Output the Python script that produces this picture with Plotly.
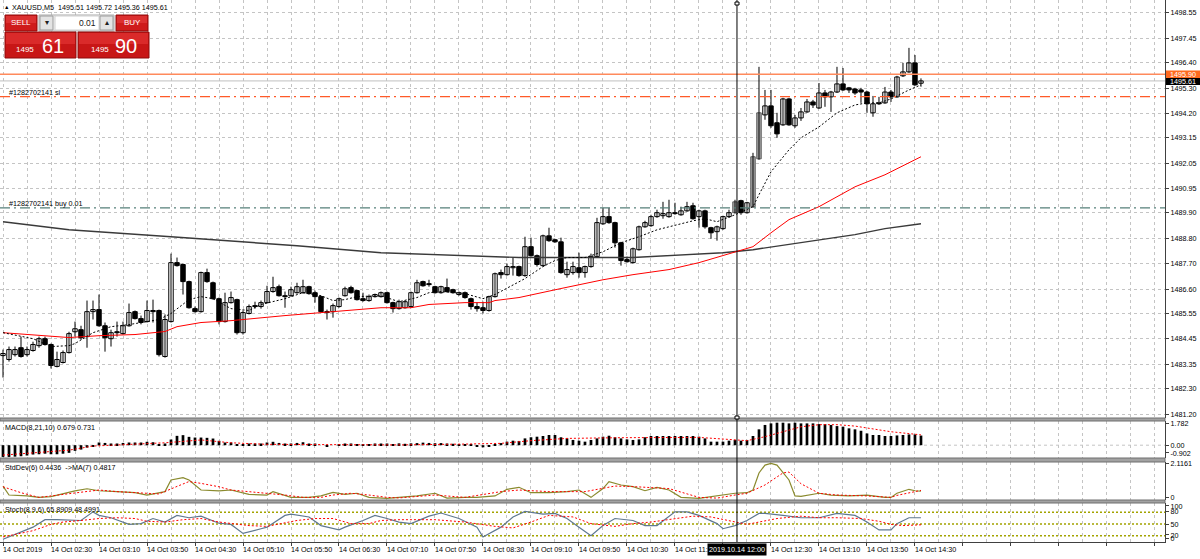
import plotly.graph_objects as go

# ---------------- data ----------------
OPEN = [
    1483.73, 1483.56, 1483.77, 1484.07, 1483.77, 1483.95, 1484.16, 1484.46, 1484.21, 1483.26,
    1483.43, 1483.86, 1484.76, 1484.85, 1484.55, 1485.63, 1485.72, 1485.02, 1484.46, 1484.76,
    1484.68, 1485.02, 1485.63, 1485.33, 1485.20, 1485.68, 1485.68, 1483.69, 1485.20, 1487.75,
    1487.67, 1486.93, 1485.76, 1485.63, 1487.32, 1486.88, 1486.19, 1485.20, 1486.02, 1486.15,
    1484.72, 1485.55, 1485.89, 1485.85, 1486.02, 1486.50, 1486.71, 1486.32, 1486.32, 1486.45,
    1486.45, 1486.71, 1486.45, 1486.28, 1485.63, 1485.63, 1485.85, 1486.32, 1486.67, 1486.54,
    1486.19, 1486.11, 1486.28, 1486.28, 1486.45, 1486.02, 1485.76, 1485.80, 1485.85, 1486.45,
    1486.93, 1486.84, 1486.71, 1486.45, 1486.67, 1486.58, 1486.37, 1486.45, 1486.19, 1485.85,
    1485.80, 1485.68, 1486.28, 1487.32, 1487.23, 1487.53, 1487.58, 1487.19, 1488.44, 1488.05,
    1487.62, 1488.91, 1488.74, 1488.65, 1487.23, 1487.32, 1487.53, 1487.32, 1487.58, 1488.01,
    1489.43, 1489.74, 1489.48, 1488.61, 1487.88, 1487.75, 1488.31, 1489.30, 1489.35, 1489.74,
    1489.78, 1489.74, 1489.91, 1489.82, 1489.99, 1490.21, 1489.74, 1489.99, 1489.26, 1489.09,
    1489.22, 1489.74, 1489.91, 1490.43, 1489.91, 1490.17, 1492.24, 1494.14, 1494.53, 1493.80,
    1493.71, 1494.83, 1493.67, 1494.01, 1494.27, 1494.70, 1494.44, 1495.09, 1494.92, 1495.13,
    1495.48, 1495.31, 1495.26, 1495.22, 1495.13, 1494.23, 1494.66, 1494.66, 1495.13, 1494.92,
    1495.83, 1496.00, 1496.39, 1495.51]
HIGH = [
    1483.99, 1484.12, 1484.12, 1484.55, 1484.12, 1484.33, 1484.55, 1484.55, 1484.25, 1483.90,
    1483.95, 1484.76, 1485.20, 1485.02, 1486.11, 1486.11, 1486.37, 1485.16, 1484.85, 1485.20,
    1485.20, 1485.98, 1485.68, 1485.46, 1486.11, 1486.15, 1485.72, 1485.51, 1488.14, 1487.97,
    1487.71, 1486.97, 1485.85, 1487.36, 1487.49, 1486.93, 1486.24, 1486.45, 1486.50, 1486.19,
    1485.68, 1485.94, 1486.06, 1486.11, 1486.75, 1487.14, 1486.80, 1486.50, 1486.71, 1486.88,
    1487.01, 1486.75, 1486.54, 1486.32, 1485.72, 1485.98, 1486.24, 1486.71, 1486.75, 1486.58,
    1486.45, 1486.37, 1486.41, 1486.50, 1486.50, 1486.06, 1486.15, 1486.11, 1486.50, 1487.01,
    1486.97, 1487.01, 1486.75, 1486.75, 1487.06, 1486.62, 1486.50, 1486.50, 1486.24, 1486.02,
    1486.06, 1486.32, 1487.32, 1487.45, 1487.71, 1487.97, 1487.62, 1488.87, 1488.83, 1488.10,
    1488.96, 1489.26, 1488.78, 1488.83, 1487.79, 1487.79, 1488.18, 1487.62, 1488.14, 1489.69,
    1490.12, 1490.12, 1489.52, 1488.65, 1488.01, 1488.40, 1489.35, 1489.56, 1489.82, 1490.04,
    1490.38, 1490.47, 1490.34, 1490.17, 1490.38, 1490.34, 1490.04, 1490.04, 1489.30, 1489.35,
    1489.78, 1490.04, 1490.47, 1490.47, 1490.38, 1492.50, 1496.22, 1495.22, 1495.22, 1494.23,
    1494.88, 1494.88, 1494.14, 1494.44, 1494.83, 1494.79, 1495.52, 1495.22, 1495.18, 1496.22,
    1496.17, 1495.35, 1495.31, 1495.31, 1495.18, 1494.96, 1494.92, 1495.35, 1495.22, 1495.83,
    1496.39, 1497.04, 1496.73, 1495.72]
LOW = [
    1482.78, 1483.47, 1483.69, 1483.64, 1483.69, 1483.90, 1484.07, 1484.16, 1483.17, 1483.22,
    1483.39, 1483.82, 1484.55, 1484.42, 1484.07, 1485.29, 1484.98, 1483.90, 1484.12, 1484.55,
    1484.64, 1484.98, 1485.29, 1485.08, 1485.16, 1485.16, 1483.69, 1483.64, 1485.16, 1487.58,
    1486.37, 1485.76, 1485.59, 1485.59, 1486.88, 1486.15, 1485.08, 1485.16, 1485.98, 1484.64,
    1484.64, 1485.51, 1485.76, 1485.76, 1485.98, 1486.45, 1486.28, 1485.80, 1486.28, 1486.41,
    1486.41, 1486.37, 1486.02, 1485.59, 1485.29, 1485.37, 1485.80, 1486.28, 1486.41, 1486.11,
    1486.06, 1486.06, 1486.24, 1486.24, 1485.98, 1485.59, 1485.72, 1485.76, 1485.80, 1486.41,
    1486.71, 1486.71, 1486.41, 1486.41, 1486.45, 1486.41, 1486.32, 1486.19, 1485.72, 1485.63,
    1485.55, 1485.63, 1486.24, 1487.06, 1487.19, 1487.19, 1487.14, 1487.14, 1488.01, 1487.58,
    1487.58, 1488.65, 1488.61, 1487.27, 1487.10, 1487.23, 1487.10, 1487.10, 1487.53, 1487.97,
    1489.39, 1489.43, 1488.40, 1487.62, 1487.75, 1487.71, 1488.27, 1489.26, 1489.30, 1489.69,
    1489.65, 1489.69, 1489.82, 1489.78, 1489.95, 1489.61, 1489.26, 1489.22, 1488.78, 1488.70,
    1489.17, 1489.69, 1489.87, 1489.82, 1489.87, 1490.12, 1492.20, 1493.93, 1493.58, 1493.15,
    1493.67, 1493.67, 1493.58, 1493.88, 1494.23, 1494.44, 1494.40, 1494.49, 1494.27, 1495.09,
    1495.18, 1495.09, 1495.01, 1494.66, 1494.23, 1494.06, 1494.57, 1494.62, 1494.70, 1494.88,
    1495.78, 1495.96, 1495.40, 1495.36]
CLOSE = [
    1483.82, 1483.99, 1483.99, 1483.69, 1483.99, 1484.21, 1484.46, 1484.21, 1483.30, 1483.56,
    1483.86, 1484.68, 1484.89, 1484.50, 1485.63, 1485.72, 1485.02, 1484.50, 1484.72, 1484.72,
    1485.02, 1485.59, 1485.33, 1485.16, 1485.68, 1485.63, 1483.77, 1485.29, 1487.75, 1487.62,
    1486.93, 1485.80, 1485.63, 1487.32, 1486.93, 1486.19, 1485.20, 1486.02, 1486.24, 1484.72,
    1485.59, 1485.85, 1485.85, 1486.02, 1486.50, 1486.67, 1486.32, 1486.28, 1486.58, 1486.71,
    1486.71, 1486.41, 1486.28, 1485.63, 1485.59, 1485.89, 1486.19, 1486.62, 1486.45, 1486.15,
    1486.11, 1486.28, 1486.37, 1486.45, 1486.02, 1485.76, 1486.06, 1486.06, 1486.45, 1486.88,
    1486.75, 1486.80, 1486.45, 1486.71, 1486.50, 1486.45, 1486.45, 1486.24, 1485.85, 1485.76,
    1485.68, 1486.28, 1487.27, 1487.23, 1487.58, 1487.58, 1487.19, 1488.44, 1488.05, 1487.67,
    1488.91, 1488.70, 1488.65, 1487.32, 1487.45, 1487.58, 1487.32, 1487.58, 1488.01, 1489.48,
    1489.74, 1489.48, 1488.61, 1487.84, 1487.79, 1488.35, 1489.30, 1489.48, 1489.74, 1489.91,
    1489.87, 1489.91, 1489.87, 1489.99, 1490.17, 1489.65, 1489.99, 1489.30, 1489.04, 1489.30,
    1489.74, 1489.91, 1490.38, 1489.91, 1490.34, 1492.33, 1494.23, 1494.53, 1493.67, 1493.32,
    1494.83, 1493.71, 1494.01, 1494.27, 1494.70, 1494.57, 1495.09, 1494.92, 1495.13, 1495.48,
    1495.22, 1495.22, 1495.09, 1495.13, 1494.62, 1494.62, 1494.62, 1495.13, 1494.92, 1495.78,
    1496.00, 1496.39, 1495.44, 1495.61]
HIGHLIGHT_BARS = [123, 126, 127]

MA_RED_N = [1, 9, 12, 17, 23, 28, 30, 34, 39, 48, 56, 64, 69, 72, 78, 82, 83, 87, 94, 101,
            106, 112, 117, 121, 123, 126, 129, 132, 137, 143, 148, 154]
MA_RED = [1484.72, 1484.55, 1484.51, 1484.59, 1484.64, 1484.77, 1484.98, 1485.16, 1485.24, 1485.46,
          1485.63, 1485.80, 1485.80, 1485.94, 1486.02, 1486.02, 1486.11, 1486.24, 1486.63, 1487.01,
          1487.23, 1487.45, 1487.75, 1488.05, 1488.22, 1488.44, 1489.04, 1489.61, 1490.17, 1491.03,
          1491.55, 1492.33]
MA_SLOW_N = [1, 12, 29, 50, 64, 81, 87, 106, 121, 126, 132, 137, 143, 148, 154]
MA_SLOW = [1489.52, 1489.17, 1488.87, 1488.48, 1488.18, 1488.01, 1487.97, 1487.97, 1488.18, 1488.31,
           1488.53, 1488.74, 1488.96, 1489.22, 1489.43]
MA_FAST_N = [1, 4, 6, 9, 12, 13, 16, 19, 22, 25, 27, 29, 32, 34, 36, 39, 42, 44, 46, 48,
             51, 54, 56, 58, 60, 64, 67, 70, 72, 74, 78, 81, 83, 86, 88, 91, 93, 95, 98, 101,
             104, 107, 110, 114, 116, 118, 120, 123, 126, 127, 129, 132, 134, 137, 140, 143, 145, 147, 149, 152,
             154]
MA_FAST = [1484.72, 1484.55, 1484.46, 1484.12, 1484.16, 1484.25, 1484.72, 1484.98, 1485.07, 1485.20,
           1485.29, 1485.55, 1486.15, 1486.28, 1486.19, 1485.76, 1485.68, 1485.94, 1486.06, 1486.19,
           1486.45, 1486.32, 1486.11, 1486.15, 1486.28, 1486.32, 1486.06, 1486.24, 1486.45, 1486.50,
           1486.41, 1486.19, 1486.37, 1486.80, 1487.06, 1487.58, 1487.84, 1487.97, 1487.97, 1488.22,
           1488.61, 1488.87, 1489.17, 1489.43, 1489.56, 1489.65, 1489.52, 1489.82, 1490.17, 1490.69,
           1491.68, 1492.63, 1493.15, 1493.62, 1494.23, 1494.57, 1494.66, 1494.66, 1494.83, 1495.22,
           1495.44]

MACD = [
    -0.83, -0.83, -0.81, -0.78, -0.73, -0.66, -0.64, -0.60, -0.64, -0.64,
    -0.60, -0.54, -0.40, -0.31, -0.17, -0.07, 0.19, 0.16, 0.12, 0.12,
    0.16, 0.19, 0.19, 0.19, 0.24, 0.21, 0.05, 0.12, 0.40, 0.66,
    0.71, 0.59, 0.54, 0.54, 0.52, 0.47, 0.31, 0.19, 0.19, 0.05,
    0.05, 0.12, 0.12, 0.12, 0.19, 0.24, 0.16, 0.12, 0.12, 0.16,
    0.21, 0.12, 0.12, 0.00, -0.07, 0.00, 0.07, 0.12, 0.12, 0.07,
    0.05, 0.05, 0.12, 0.12, 0.12, 0.05, 0.13, 0.10, 0.13, 0.15,
    0.18, 0.16, 0.14, 0.15, 0.12, 0.10, 0.08, 0.06, 0.02, -0.06,
    -0.15, -0.10, 0.05, 0.15, 0.25, 0.32, 0.30, 0.48, 0.56, 0.60,
    0.65, 0.72, 0.72, 0.56, 0.48, 0.37, 0.32, 0.25, 0.37, 0.48,
    0.60, 0.67, 0.56, 0.48, 0.41, 0.37, 0.41, 0.56, 0.65, 0.65,
    0.65, 0.65, 0.65, 0.65, 0.65, 0.65, 0.60, 0.48, 0.25, 0.25,
    0.25, 0.32, 0.37, 0.32, 0.37, 0.65, 1.12, 1.43, 1.54, 1.59,
    1.59, 1.54, 1.59, 1.54, 1.54, 1.54, 1.49, 1.49, 1.43, 1.35,
    1.31, 1.19, 1.12, 1.02, 0.83, 0.72, 0.72, 0.65, 0.65, 0.69,
    0.72, 0.76, 0.76, 0.68]
MACD_SIG_N = [1, 6, 12, 16, 23, 28, 34, 39, 45, 56, 67, 78, 84, 89, 95, 104, 117, 125, 128, 131,
              134, 137, 140, 143, 146, 149, 152, 154]
MACD_SIG = [-0.70, -0.54, -0.35, -0.06, 0.06, 0.17, 0.37, 0.17, 0.06, 0.06, 0.02, 0.08, 0.13, 0.32,
            0.48, 0.53, 0.55, 0.32, 0.60, 0.95, 1.30, 1.45, 1.45, 1.35, 1.15, 0.95, 0.82, 0.73]

SD_N = [1, 2, 5, 7, 9, 10, 13, 15, 17, 20, 23, 25, 28, 29, 31, 32, 34, 37, 39, 42,
        45, 46, 49, 52, 54, 56, 58, 60, 62, 65, 67, 70, 73, 75, 78, 80, 83, 85, 87, 89,
        92, 95, 97, 99, 101, 102, 104, 106, 108, 110, 112, 114, 117, 119, 121, 123, 125, 126, 127, 128,
        129, 130, 132, 133, 134, 137, 139, 142, 145, 148, 149, 150, 152, 153, 154]
SD = [0.72, 0.22, 0.17, 0.09, 0.13, 0.22, 0.45, 0.57, 0.46, 0.41, 0.35, 0.22, 0.41, 1.06, 1.19, 1.06, 0.50, 0.45, 0.50, 0.26,
      0.22, 0.41, 0.09, 0.09, 0.17, 0.37, 0.26, 0.32, 0.09, 0.03, 0.09, 0.17, 0.32, 0.05, 0.09, 0.09, 0.17, 0.54, 0.65, 0.35,
      0.35, 0.41, 0.50, 0.09, 0.58, 0.97, 0.78, 0.69, 0.46, 0.65, 0.50, 0.09, 0.03, 0.13, 0.22, 0.32, 0.35, 0.50, 1.45, 1.89,
      1.98, 1.89, 1.06, 0.17, 0.15, 0.32, 0.22, 0.17, 0.22, 0.09, 0.09, 0.32, 0.54, 0.46, 0.44]
SD_MA_N = [1, 4, 7, 10, 14, 17, 20, 24, 27, 30, 32, 34, 37, 39, 42, 45, 48, 51, 54, 56,
           59, 62, 65, 67, 73, 78, 84, 87, 92, 98, 103, 106, 112, 117, 120, 123, 125, 128, 131, 132,
           133, 134, 137, 140, 145, 149, 150, 154]
SD_MA = [0.68, 0.35, 0.09, 0.22, 0.41, 0.50, 0.41, 0.32, 0.28, 0.70, 0.97, 0.87, 0.68, 0.50, 0.41, 0.32, 0.22, 0.09, 0.09, 0.22,
         0.32, 0.22, 0.09, 0.06, 0.22, 0.09, 0.41, 0.50, 0.41, 0.41, 0.72, 0.69, 0.58, 0.09, 0.05, 0.22, 0.32, 0.78, 1.45, 1.50,
         1.20, 0.85, 0.32, 0.22, 0.17, 0.09, 0.20, 0.48]

ST_N = [1, 3, 6, 8, 10, 14, 16, 17, 19, 22, 24, 26, 28, 30, 32, 34, 37, 39, 41, 44,
        45, 48, 49, 52, 54, 57, 58, 61, 63, 65, 67, 69, 72, 74, 77, 80, 81, 84, 86, 88,
        91, 93, 95, 97, 99, 101, 103, 106, 108, 110, 113, 115, 117, 120, 121, 123, 125, 127, 128, 131,
        134, 137, 140, 143, 145, 147, 149, 150, 152, 154]
ST = [11, 24, 42, 61, 61, 59, 81, 72, 66, 49, 51, 64, 55, 72, 66, 70, 52, 49, 26, 38,
      42, 72, 75, 68, 46, 35, 42, 59, 72, 64, 55, 51, 70, 78, 64, 42, 17, 42, 68, 82,
      75, 77, 64, 42, 20, 46, 64, 59, 46, 46, 81, 81, 72, 51, 38, 46, 59, 77, 77, 72,
      66, 66, 77, 72, 55, 35, 35, 51, 66, 66]
ST_SIG_N = [1, 3, 6, 9, 11, 14, 17, 20, 23, 25, 28, 31, 34, 37, 39, 42, 45, 48, 50, 53,
            56, 59, 62, 64, 67, 73, 78, 83, 86, 89, 92, 96, 99, 103, 106, 109, 113, 116, 119, 122,
            125, 127, 130, 134, 137, 140, 144, 147, 149, 151, 154]
ST_SIG = [17, 24, 33, 49, 55, 59, 64, 66, 64, 57, 55, 61, 64, 55, 51, 46, 44, 52, 59, 64,
          64, 51, 51, 59, 61, 61, 55, 44, 40, 55, 72, 68, 51, 44, 51, 55, 64, 70, 68, 59,
          49, 55, 64, 70, 66, 66, 64, 57, 49, 46, 48]

PRICE_TICKS = [1481.20, 1482.30, 1483.35, 1484.45, 1485.55, 1486.60, 1487.70, 1488.80, 1489.90,
               1490.95, 1492.05, 1493.15, 1494.20, 1495.30, 1496.40, 1497.45, 1498.55]
ASK = 1495.90
SL_LEVEL = 1494.93
BUY_LEVEL = 1490.12
XLABEL_N = [1, 9, 17, 25, 33, 41, 49, 57, 65, 73, 81, 89, 97, 105, 113, 129, 137, 145, 153]
XLABELS = ["14 Oct 2019", "14 Oct 02:30", "14 Oct 03:10", "14 Oct 03:50", "14 Oct 04:30",
           "14 Oct 05:10", "14 Oct 05:50", "14 Oct 06:30", "14 Oct 07:10", "14 Oct 07:50",
           "14 Oct 08:30", "14 Oct 09:10", "14 Oct 09:50", "14 Oct 10:30", "14 Oct 11:10",
           "14 Oct 12:30", "14 Oct 13:10", "14 Oct 13:50", "14 Oct 14:30"]
CROSS_N = 123.33
CROSS_LABEL = "2019.10.14 12:00"

# ---------------- layout helpers ----------------
PW, PH = 1165.0, 542.0
FONT = "Liberation Sans, Arial, sans-serif"
FS = 7.2


def px(X):
    return X / PW


def py(Y):
    return (PH - Y) / PH


fig = go.Figure()

idx = list(range(1, len(OPEN) + 1))

# wicks
wx, wy = [], []
for n, h, l in zip(idx, HIGH, LOW):
    wx += [n, n, None]
    wy += [l, h, None]
fig.add_trace(go.Scatter(x=wx, y=wy, mode="lines", line=dict(color="black", width=1),
                         hoverinfo="skip", xaxis="x", yaxis="y"))

# bodies
base, hgt, fills, outl = [], [], [], []
for n, o, c in zip(idx, OPEN, CLOSE):
    base.append(min(o, c))
    hgt.append(max(abs(c - o), 0.03))
    if n in HIGHLIGHT_BARS:
        fills.append("#a8a8a8")
        outl.append("#5a5a5a")
    elif c >= o:
        fills.append("white")
        outl.append("black")
    else:
        fills.append("black")
        outl.append("black")
fig.add_trace(go.Bar(x=idx, y=hgt, base=base, width=0.74,
                     marker=dict(color=fills, line=dict(color=outl, width=1)),
                     xaxis="x", yaxis="y", hoverinfo="skip"))

# moving averages
fig.add_trace(go.Scatter(x=MA_SLOW_N, y=MA_SLOW, mode="lines", line=dict(color="#3a3a3a", width=1.4),
                         xaxis="x", yaxis="y"))
fig.add_trace(go.Scatter(x=MA_RED_N, y=MA_RED, mode="lines", line=dict(color="#ff0000", width=1),
                         xaxis="x", yaxis="y"))
fig.add_trace(go.Scatter(x=MA_FAST_N, y=MA_FAST, mode="lines",
                         line=dict(color="black", width=1, dash="2px,2px"), xaxis="x", yaxis="y"))

# MACD
fig.add_trace(go.Bar(x=idx, y=MACD, width=0.45, marker=dict(color="black", line=dict(width=0)),
                     xaxis="x2", yaxis="y2"))
fig.add_trace(go.Scatter(x=MACD_SIG_N, y=MACD_SIG, mode="lines",
                         line=dict(color="#ff0000", width=1, dash="2px,2px"), xaxis="x2", yaxis="y2"))

# StdDev
fig.add_trace(go.Scatter(x=SD_N, y=SD, mode="lines", line=dict(color="#8a8a2e", width=1.2),
                         xaxis="x3", yaxis="y3"))
fig.add_trace(go.Scatter(x=SD_MA_N, y=SD_MA, mode="lines",
                         line=dict(color="#ff0000", width=1, dash="2px,2px"), xaxis="x3", yaxis="y3"))

# Stochastic
fig.add_trace(go.Scatter(x=ST_N, y=ST, mode="lines", line=dict(color="#5f7891", width=1.2),
                         xaxis="x4", yaxis="y4"))
fig.add_trace(go.Scatter(x=ST_SIG_N, y=ST_SIG, mode="lines",
                         line=dict(color="#ff0000", width=1, dash="2px,2px"), xaxis="x4", yaxis="y4"))

# ---------------- axes ----------------
XR = [0.5, 194.67]
GRID = "#c4c4c4"
GDASH = "3px,3px"


def xaxis(anchor, ticks=""):
    return dict(range=XR, anchor=anchor, domain=[0, 1], showgrid=True, gridcolor=GRID, griddash=GDASH,
                gridwidth=1, tick0=1, dtick=8, ticks=ticks, ticklen=3, tickcolor="#404040",
                showticklabels=False, zeroline=False, showline=(ticks != ""), linecolor="#404040",
                minor=dict(tick0=1, dtick=4, showgrid=True, gridcolor=GRID, griddash=GDASH, ticks=""),
                fixedrange=True, automargin=False)


def yaxis(dom, rng, tv, tt, anchor, grid=False):
    return dict(domain=dom, range=rng, side="right", anchor=anchor, tickvals=tv, ticktext=tt,
                ticks="outside", ticklen=3, tickcolor="#404040", showline=True, linecolor="#404040",
                linewidth=1, showgrid=grid, gridcolor=GRID, griddash=GDASH, zeroline=False,
                tickfont=dict(family=FONT, size=FS, color="black"), fixedrange=True, automargin=False)


ya = yaxis([py(418), 1], [1481.03, 1499.11], PRICE_TICKS, [f"{v:.2f}" for v in PRICE_TICKS], "x", grid=True)
ya2 = yaxis([py(458), py(421)], [-0.904, 1.709], [1.50, 0.0, -0.55], ["1.782", "0.00", "-0.902"], "x2")
ya3 = yaxis([py(500), py(462)], [-0.056, 2.06], [2.0, 0.11], ["2.1161", "0"], "x3")
ya4 = yaxis([py(542), py(503)], [4.1, 103.6], [96, 83, 50, 22, 13], ["100", "80", "50", "20", "0"], "x4")

shapes = []
# panel separators
for y0, y1 in [(418, 421), (458, 462), (500, 503)]:
    shapes.append(dict(type="rect", xref="paper", yref="paper", x0=0, x1=1, y0=py(y1), y1=py(y0),
                       fillcolor="#a2a2a2", line=dict(color="#6e6e6e", width=1), layer="above"))
# MACD zero level
shapes.append(dict(type="line", xref="paper", yref="y2", x0=0, x1=1, y0=0, y1=0,
                   line=dict(color=GRID, width=1, dash=GDASH), layer="below"))
# stochastic levels
for lv in [80, 50, 20]:
    shapes.append(dict(type="line", xref="paper", yref="y4", x0=0, x1=1, y0=lv, y1=lv,
                       line=dict(color="#a3a300", width=1.5, dash="2px,2px"), layer="below"))
# price lines
shapes.append(dict(type="line", xref="paper", yref="y", x0=0, x1=1, y0=CLOSE[-1], y1=CLOSE[-1],
                   line=dict(color="#c0c0c0", width=1), layer="below"))
shapes.append(dict(type="line", xref="paper", yref="y", x0=0, x1=1, y0=ASK, y1=ASK,
                   line=dict(color="#ff8a5c", width=1.6), layer="above"))
shapes.append(dict(type="line", xref="paper", yref="y", x0=0, x1=1, y0=SL_LEVEL, y1=SL_LEVEL,
                   line=dict(color="#ff5a28", width=1.2, dash="10px,4px,2px,4px"), layer="above"))
shapes.append(dict(type="line", xref="paper", yref="y", x0=0, x1=1, y0=BUY_LEVEL, y1=BUY_LEVEL,
                   line=dict(color="#56807a", width=1.2, dash="10px,4px,2px,4px"), layer="above"))
# crosshair
shapes.append(dict(type="line", xref="x", yref="paper", x0=CROSS_N, x1=CROSS_N, y0=0, y1=1,
                   line=dict(color="black", width=1), layer="above"))
for yc in [2, 416]:
    shapes.append(dict(type="rect", xref="paper", yref="paper", x0=px(735), x1=px(739),
                       y0=py(yc + 3), y1=py(yc), fillcolor="white", line=dict(color="black", width=1),
                       layer="above"))

# trading panel
RED = "#cf1b1b"
DARKRED = "#8e0a0a"
panel = [
    (5, 15, 37, 31, RED, DARKRED),
    (39, 15, 114, 31, "#f2f2f2", "#a8a8a8"),
    (40, 16, 53, 30, "#e4e4e4", "#9c9c9c"),
    (55, 16, 99, 30, "white", "#d0d0d0"),
    (100, 16, 113, 30, "#e4e4e4", "#9c9c9c"),
    (116, 15, 148, 31, RED, DARKRED),
    (5, 32, 76, 58, "#c81616", DARKRED),
    (78, 32, 149, 58, "#c81616", DARKRED),
]
for x0, y0, x1, y1, fc, lc in panel:
    shapes.append(dict(type="rect", xref="paper", yref="paper", x0=px(x0), x1=px(x1), y0=py(y1), y1=py(y0),
                       fillcolor=fc, line=dict(color=lc, width=1), layer="above"))
for x0, x1 in [(6, 75), (79, 148)]:
    shapes.append(dict(type="rect", xref="paper", yref="paper", x0=px(x0), x1=px(x1), y0=py(44), y1=py(33),
                       fillcolor="#da2a2a", line=dict(width=0), layer="above"))
for x0, x1 in [(6, 36), (117, 147)]:
    shapes.append(dict(type="rect", xref="paper", yref="paper", x0=px(x0), x1=px(x1), y0=py(23), y1=py(16),
                       fillcolor="#dc3030", line=dict(width=0), layer="above"))
# right-side price boxes
shapes.append(dict(type="rect", xref="paper", yref="paper", x0=px(1166), x1=px(1200), y0=py(78), y1=py(70.5),
                   fillcolor="#ff6a1f", line=dict(width=0), layer="above"))
shapes.append(dict(type="rect", xref="paper", yref="paper", x0=px(1166), x1=px(1200), y0=py(85), y1=py(78),
                   fillcolor="black", line=dict(width=0), layer="above"))

ann = []


def text(X, Y, s, size=FS, color="black", xanchor="left", **kw):
    ann.append(dict(xref="paper", yref="paper", x=px(X), y=py(Y), text=s, showarrow=False,
                    xanchor=xanchor, yanchor="middle", font=dict(family=FONT, size=size, color=color), **kw))


text(2, 7, "▲", size=5.5)
text(10, 7, f"XAUUSD,M5  {OPEN[-1]:.2f} {HIGH[-1]:.2f} {LOW[-1]:.2f} {CLOSE[-1]:.2f}")
text(21, 23, "SELL", size=8, color="white", xanchor="center")
text(132, 23, "BUY", size=8, color="white", xanchor="center")
text(98, 23, "0.01", size=8.5, color="#202020", xanchor="right")
text(46.5, 23, "▾", size=7.5, color="#202020", xanchor="center")
text(106.5, 23, "▴", size=7.5, color="#202020", xanchor="center")
bid_s, ask_s = f"{CLOSE[-1]:.2f}", f"{ASK:.2f}"
text(25, 49, bid_s[:4], size=8, color="white", xanchor="center")
text(53, 46, bid_s[-2:], size=20, color="white", xanchor="center")
text(100, 49, ask_s[:4], size=8, color="white", xanchor="center")
text(126, 46, ask_s[-2:], size=20, color="white", xanchor="center")
text(7, 92.5, "#1282702141 sl")
text(7, 203.5, "#1282702141 buy 0.01")
text(3, 427, "MACD(8,21,10) 0.679 0.731")
text(3, 467, "StdDev(6) 0.4436  ->MA(7) 0.4817")
text(3, 509, "Stoch(8,9,6) 65.8909 48.4991")
text(1168, 74.3, ask_s, color="white")
text(1168, 81.5, bid_s, color="white")

for n, lab in zip(XLABEL_N, XLABELS):
    ann.append(dict(xref="x", yref="paper", x=n - 0.3, y=py(543), text=lab, showarrow=False,
                    xanchor="left", yanchor="top", font=dict(family=FONT, size=FS, color="black")))
ann.append(dict(xref="x", yref="paper", x=CROSS_N, y=py(543), text=CROSS_LABEL, showarrow=False,
                xanchor="center", yanchor="top", bgcolor="black", borderpad=1,
                font=dict(family=FONT, size=FS, color="white")))

fig.update_layout(
    width=1200, height=559, margin=dict(l=0, r=35, t=0, b=17, autoexpand=False),
    paper_bgcolor="white", plot_bgcolor="white", showlegend=False, barmode="overlay",
    xaxis=xaxis("y"), xaxis2=xaxis("y2"), xaxis3=xaxis("y3"), xaxis4=xaxis("y4", ticks="outside"),
    yaxis=ya, yaxis2=ya2, yaxis3=ya3, yaxis4=ya4,
    shapes=shapes, annotations=ann, hovermode=False,
)

fig.write_html("out.html")
